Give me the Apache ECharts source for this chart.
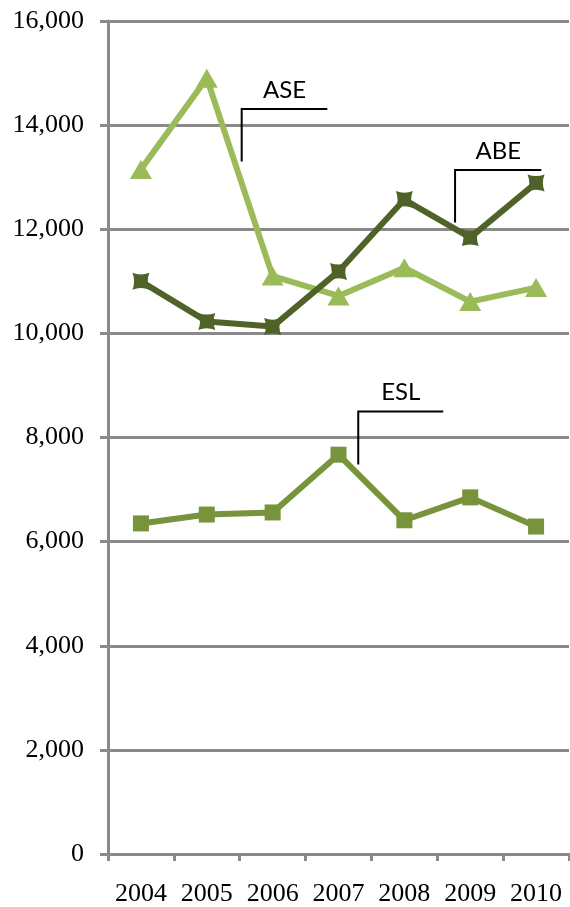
<!DOCTYPE html>
<html>
<head>
<meta charset="utf-8">
<script src="https://cdn.jsdelivr.net/npm/echarts@6/dist/echarts.min.js"></script>
<style>
  html, body { margin: 0; padding: 0; background: #fff; }
  #chart { width: 570px; height: 907px; }
</style>
</head>
<body>
<div id="chart"></div>
<script>
const years = ['2004', '2005', '2006', '2007', '2008', '2009', '2010'];
const ase = [13150, 14900, 11100, 10720, 11260, 10610, 10880];
const abe = [11000, 10230, 10130, 11190, 12570, 11840, 12890];
const esl = [6350, 6520, 6560, 7670, 6410, 6850, 6290];

// callout labels: name, x (category index), top / bottom of the leader, x end of the leader
const noteNames = ['ASE', 'ABE', 'ESL'];
const noteX = [1.53, 4.77, 3.30];
const noteTop = [14310, 13140, 8500];
const noteBottom = [13300, 12130, 7480];
const noteXEnd = [2.83, 6.08, 4.59];

const chart = echarts.init(document.getElementById('chart'));

const pinched = 'path://M0,0 Q5,2 10,0 Q8,5 10,10 Q5,8 0,10 Q2,5 0,0 Z';

const option = {
    animation: false,
    grid: { left: 108, right: 1, top: 21, bottom: 52 },
    xAxis: {
        type: 'category',
        data: years,
        boundaryGap: true,
        axisLine: { lineStyle: { color: '#8a8a8a', width: 3 } },
        axisTick: { show: true, length: 7, lineStyle: { color: '#8a8a8a', width: 3 } },
        axisLabel: {
            color: '#000', fontFamily: 'Liberation Serif', fontSize: 26, margin: 27,
            interval: 0, hideOverlap: false
        }
    },
    yAxis: {
        type: 'value',
        min: 0,
        max: 16000,
        interval: 2000,
        axisLine: { show: true, lineStyle: { color: '#8a8a8a', width: 3 } },
        axisTick: { show: true, length: 8, lineStyle: { color: '#8a8a8a', width: 3 } },
        axisLabel: { color: '#000', fontFamily: 'Liberation Serif', fontSize: 26, margin: 24 },
        splitLine: { lineStyle: { color: '#8a8a8a', width: 3 } }
    },
    series: [
        {
            name: 'ASE',
            type: 'line',
            data: ase,
            symbol: 'triangle',
            symbolSize: [22, 19],
            itemStyle: { color: '#9bbb59' },
            lineStyle: { width: 6, color: '#9bbb59' }
        },
        {
            name: 'ABE',
            type: 'line',
            data: abe,
            symbol: pinched,
            symbolSize: 17,
            itemStyle: { color: '#4f6228' },
            lineStyle: { width: 6, color: '#4f6228' }
        },
        {
            name: 'ESL',
            type: 'line',
            data: esl,
            symbol: 'rect',
            symbolSize: 16,
            itemStyle: { color: '#77933c', borderRadius: 2 },
            lineStyle: { width: 6, color: '#77933c' }
        }
    ]
};

chart.setOption(option);

// draw the callouts from data coordinates
const x0 = chart.convertToPixel({ xAxisIndex: 0 }, 0);
const x1 = chart.convertToPixel({ xAxisIndex: 0 }, 1);
const px = (i) => x0 + (x1 - x0) * i;
const py = (v) => chart.convertToPixel({ yAxisIndex: 0 }, v);

const graphics = [];
noteNames.forEach((name, k) => {
    const xa = px(noteX[k]);
    const xb = px(noteXEnd[k]);
    const yt = py(noteTop[k]);
    const yb = py(noteBottom[k]);
    graphics.push({
        type: 'polyline',
        shape: { points: [[xa, yb], [xa, yt], [xb, yt]] },
        style: { stroke: '#000', lineWidth: 2, fill: null },
        z: 10
    });
    graphics.push({
        type: 'text',
        x: (xa + xb) / 2,
        y: yt - 19,
        style: {
            text: name,
            font: '24px Lato',
            fill: '#000',
            align: 'center',
            verticalAlign: 'middle'
        },
        z: 10
    });
});
chart.setOption({ graphic: graphics });
</script>
</body>
</html>
